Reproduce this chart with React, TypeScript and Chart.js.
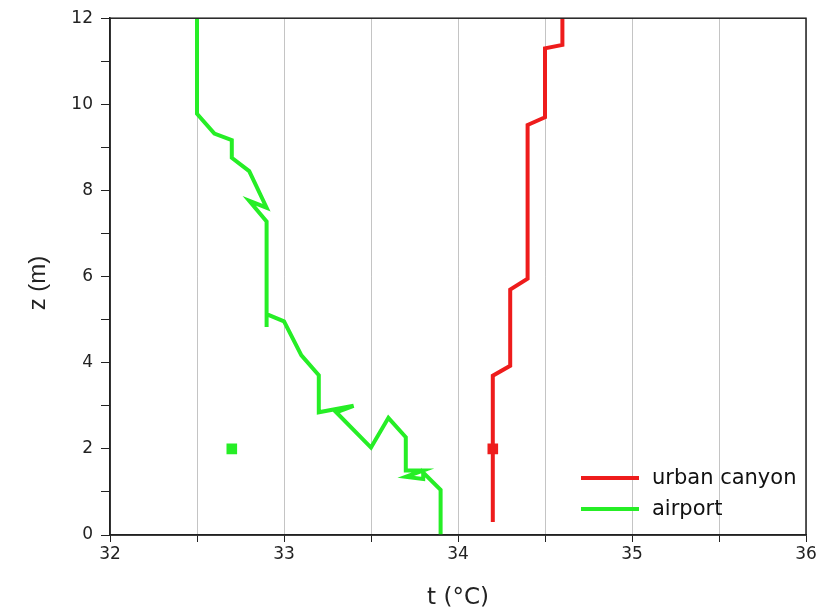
import React, { useEffect, useRef } from "react";
import { Chart, registerables } from "chart.js";

Chart.register(...registerables);

const urbanT = [34.2, 34.2, 34.3, 34.3, 34.4, 34.4, 34.5, 34.5, 34.6, 34.6];
const urbanZ = [0.3, 3.7, 3.93, 5.7, 5.95, 9.52, 9.7, 11.3, 11.38, 12];

const airportT = [32.5, 32.5, 32.6, 32.7, 32.7, 32.8, 32.9, 32.8, 32.9, 32.9, 32.9, 33.0, 33.1, 33.2, 33.2, 33.4, 33.3, 33.5, 33.6, 33.7, 33.7, 33.8, 33.7, 33.8, 33.8, 33.9, 33.9];
const airportZ = [12, 9.78, 9.32, 9.17, 8.76, 8.45, 7.6, 7.76, 7.28, 4.83, 5.13, 4.96, 4.17, 3.71, 2.85, 3.0, 2.85, 2.03, 2.72, 2.27, 1.5, 1.5, 1.35, 1.3, 1.45, 1.05, 0];

const urbanMarkerT = [34.2];
const urbanMarkerZ = [2.0];
const airportMarkerT = [32.7];
const airportMarkerZ = [2.0];

const seriesLabels = ["urban canyon", "airport"];
const xLabel = "t (°C)";
const yLabel = "z (m)";
const xMin = 32, xMax = 36, yMin = 0, yMax = 12;

const RED = "#ee1c1c";
const GREEN = "#26ee26";
const FONT = "'Liberation Sans', Arial, sans-serif";
const WIDE = "'DejaVu Sans', sans-serif";

const pts = (xs: number[], ys: number[]) => xs.map((x, i) => ({ x, y: ys[i] }));

const framePlugin = {
  id: "frame",
  afterDraw(chart: any) {
    const { ctx, chartArea } = chart;
    ctx.save();
    ctx.strokeStyle = "#222";
    ctx.lineWidth = 1.5;
    ctx.strokeRect(chartArea.left, chartArea.top, chartArea.right - chartArea.left, chartArea.bottom - chartArea.top);
    // y axis title
    ctx.save();
    ctx.translate(38, 283);
    ctx.rotate(-Math.PI / 2);
    ctx.font = `24px ${FONT}`;
    ctx.fillStyle = "#222";
    ctx.textAlign = "center";
    ctx.textBaseline = "middle";
    ctx.fillText(yLabel, 0, 0);
    ctx.restore();
    // legend
    const items = chart.data.datasets.filter((d: any) => d.showInLegend);
    const x0 = chartArea.right - 225;
    const x1 = chartArea.right - 167;
    let y = chartArea.bottom - 57;
    ctx.font = `21px ${WIDE}`;
    ctx.textBaseline = "middle";
    ctx.textAlign = "left";
    for (const d of items) {
      ctx.strokeStyle = d.borderColor;
      ctx.lineWidth = 4;
      ctx.beginPath();
      ctx.moveTo(x0, y);
      ctx.lineTo(x1, y);
      ctx.stroke();
      ctx.fillStyle = "#111";
      ctx.fillText(d.label, x1 + 13, y + 1);
      y += 31;
    }
    ctx.restore();
  },
};

export default function App() {
  const ref = useRef<HTMLCanvasElement | null>(null);
  useEffect(() => {
    document.body.style.margin = "0";
    const canvas = ref.current!;
    const chart = new Chart(canvas, {
      type: "line",
      data: {
        datasets: [
          { label: seriesLabels[0], data: pts(urbanT, urbanZ), borderColor: RED, backgroundColor: RED, borderWidth: 4, pointRadius: 0, tension: 0, showInLegend: true } as any,
          { label: seriesLabels[1], data: pts(airportT, airportZ), borderColor: GREEN, backgroundColor: GREEN, borderWidth: 4, pointRadius: 0, tension: 0, showInLegend: true } as any,
          { label: "urban marker", data: pts(urbanMarkerT, urbanMarkerZ), showLine: false, borderColor: RED, backgroundColor: RED, pointStyle: "rect", pointRadius: 7.5, borderWidth: 0 } as any,
          { label: "airport marker", data: pts(airportMarkerT, airportMarkerZ), showLine: false, borderColor: GREEN, backgroundColor: GREEN, pointStyle: "rect", pointRadius: 7.5, borderWidth: 0 } as any,
        ],
      },
      options: {
        animation: false,
        responsive: false,
        maintainAspectRatio: false,
        layout: { padding: { top: 18, right: 13, left: 0, bottom: 0 } },
        plugins: { legend: { display: false }, tooltip: { enabled: false } },
        scales: {
          x: {
            type: "linear",
            min: xMin,
            max: xMax,
            afterFit(scale: any) { scale.height = 77; },
            ticks: {
              stepSize: 0.5,
              autoSkip: false,
              maxRotation: 0,
              padding: 2,
              color: "#222",
              font: { family: WIDE, size: 17 },
              callback: (v: any) => (Number.isInteger(v) ? String(v) : ""),
            },
            grid: { color: "#c4c4c4", lineWidth: 1, tickLength: 7, tickColor: "#222", drawOnChartArea: true },
            border: { display: true, color: "#222", width: 1.5 },
            title: { display: true, text: xLabel, color: "#222", font: { family: WIDE, size: 23 }, padding: { top: 0, bottom: 0 } },
          },
          y: {
            type: "linear",
            min: yMin,
            max: yMax,
            afterFit(scale: any) { scale.width = 110; },
            ticks: {
              stepSize: 1,
              autoSkip: false,
              padding: 8,
              color: "#222",
              font: { family: WIDE, size: 17 },
              callback: (v: any) => (v % 2 === 0 ? String(v) : ""),
            },
            grid: { drawOnChartArea: false, tickLength: 9, tickColor: "#222" },
            border: { display: true, color: "#222", width: 1.5 },
            title: { display: false },
          },
        },
      },
      plugins: [framePlugin],
    } as any);
    return () => chart.destroy();
  }, []);
  return (
    <div style={{ width: 819, height: 612 }}>
      <canvas ref={ref} width={819} height={612} style={{ display: "block" }} />
    </div>
  );
}
